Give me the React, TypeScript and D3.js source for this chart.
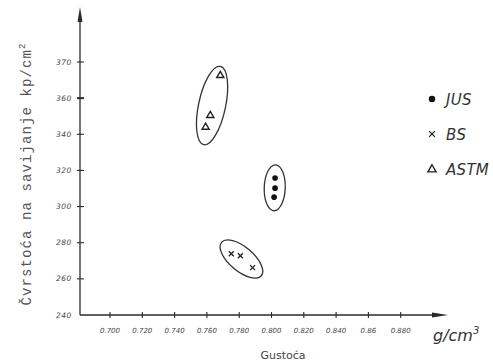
import React from "react";
import * as d3 from "d3";

// ---- data ----
const xTickValues = [0.7, 0.72, 0.74, 0.76, 0.78, 0.8, 0.82, 0.84, 0.86, 0.88];
const xTickLabels = ["0.700", "0.720", "0.740", "0.760", "0.780", "0.800", "0.820", "0.840", "0.86", "0.880"];
const yTickValues = [240, 260, 280, 300, 320, 340, 360, 380];
const yTickLabels = ["240", "260", "280", "300", "320", "340", "360", "370"];

const seriesNames = ["JUS", "BS", "ASTM"];
const jusX = [0.8022, 0.8022, 0.8016];
const jusY = [315.8, 310.2, 305.2];
const bsX = [0.7751, 0.7807, 0.7883];
const bsY = [273.9, 272.8, 266.2];
const astmX = [0.7683, 0.7621, 0.7592];
const astmY = [372.8, 350.7, 344.2];

const W = 493;
const H = 362;

const x = d3.scaleLinear().domain([0.7, 0.88]).range([110, 400.7]);
const y = d3.scaleLinear().domain([240, 380]).range([315, 62]);

const INK = "#2a2a2a";
const TXT = "#444";

// ellipse styles per group (pixel radii and rotation)
const groups = [
  { name: "JUS", xs: jusX, ys: jusY, rx: 10.5, ry: 23, rot: 2 },
  { name: "BS", xs: bsX, ys: bsY, rx: 26, ry: 12, rot: 40 },
  { name: "ASTM", xs: astmX, ys: astmY, rx: 13.5, ry: 40, rot: 12 },
];

function Marker({ kind, cx, cy, s = 1 }: { kind: string; cx: number; cy: number; s?: number }) {
  if (kind === "JUS") return <circle cx={cx} cy={cy} r={2.8 * s} fill="#111" />;
  if (kind === "BS")
    return (
      <g stroke="#222" strokeWidth={1.3}>
        <line x1={cx - 2.5 * s} y1={cy - 2.5 * s} x2={cx + 2.5 * s} y2={cy + 2.5 * s} />
        <line x1={cx - 2.5 * s} y1={cy + 2.5 * s} x2={cx + 2.5 * s} y2={cy - 2.5 * s} />
      </g>
    );
  const tri = d3.symbol().type(d3.symbolTriangle).size(22 * s * s)();
  return <path d={tri || ""} transform={`translate(${cx},${cy + 0.5})`} fill="none" stroke="#222" strokeWidth={1.4} />;
}

export default function App() {
  const yAxisX = 80;
  const xAxisY = y(240);
  return (
    <svg width={W} height={H} style={{ position: "absolute", left: 0, top: 0, background: "#fff" }}>
      <rect width={W} height={H} fill="#fff" />
      {/* y axis */}
      <line x1={yAxisX} y1={xAxisY} x2={yAxisX} y2={14} stroke={INK} strokeWidth={1.3} />
      <path d={`M${yAxisX - 2.5},22 L${yAxisX},7 L${yAxisX + 2.5},22 Z`} fill={INK} />
      {yTickValues.map((v, i) => (
        <g key={"yt" + i}>
          {i > 0 && (
            <line x1={yAxisX - 3} x2={yAxisX + 4} y1={y(v)} y2={y(v)} stroke={INK} strokeWidth={i === 6 ? 2 : 1.1} />
          )}
          <text
            x={72}
            y={y(v) + 2.5}
            textAnchor="end"
            fontFamily="DejaVu Sans"
            fontStyle="italic"
            fontSize={7.5}
            fill={TXT}
            letterSpacing={0.6}
          >
            {yTickLabels[i]}
          </text>
        </g>
      ))}
      {/* x axis */}
      <line x1={yAxisX} y1={xAxisY} x2={440} y2={xAxisY} stroke={INK} strokeWidth={1.3} />
      <path d={`M432,${xAxisY - 2.5} L448,${xAxisY} L432,${xAxisY + 2.5} Z`} fill={INK} />
      {xTickValues.map((v, i) => (
        <g key={"xt" + i}>
          <line x1={x(v)} x2={x(v)} y1={xAxisY - 3} y2={xAxisY + 3} stroke={INK} strokeWidth={1.1} />
          <text
            x={x(v)}
            y={xAxisY + 18}
            textAnchor="middle"
            fontFamily="DejaVu Sans"
            fontStyle="italic"
            fontSize={7}
            fill={TXT}
          >
            {xTickLabels[i]}
          </text>
        </g>
      ))}
      <text x={433} y={341} fontFamily="DejaVu Sans" fontStyle="italic" fontSize={16} fill="#333">
        g/cm<tspan dy={-7} fontSize={10}>3</tspan>
      </text>
      <text x={283} y={359} textAnchor="middle" fontFamily="DejaVu Sans" fontSize={11} fill="#444">
        Gustoća
      </text>
      {/* y label */}
      <text
        transform={`translate(31,174) rotate(-90)`}
        textAnchor="middle"
        fontFamily="Liberation Mono"
        fontSize={14}
        letterSpacing={1.1}
        fill="#555"
      >
        Čvrstoća na savijanje kp/cm<tspan dy={-6} fontSize={9}>2</tspan>
      </text>
      {/* ellipses */}
      {groups.map((g) => {
        const cx = d3.mean(g.xs.map((v) => x(v))) as number;
        const cy = d3.mean(g.ys.map((v) => y(v))) as number;
        return (
          <ellipse
            key={"el" + g.name}
            cx={cx}
            cy={cy}
            rx={g.rx}
            ry={g.ry}
            transform={`rotate(${g.rot},${cx},${cy})`}
            fill="none"
            stroke="#333"
            strokeWidth={1.3}
          />
        );
      })}
      {/* points */}
      {groups.map((g) =>
        g.xs.map((v, i) => <Marker key={g.name + i} kind={g.name} cx={x(v)} cy={y(g.ys[i])} />)
      )}
      {/* legend */}
      {seriesNames.map((n, i) => (
        <g key={"lg" + n}>
          <Marker kind={n} cx={432} cy={99 + i * 35} s={1.15} />
          <text
            x={446}
            y={104.5 + i * 35}
            fontFamily="DejaVu Sans"
            fontStyle="italic"
            fontSize={15}
            letterSpacing={0.3}
            fill="#333"
          >
            {n}
          </text>
        </g>
      ))}
    </svg>
  );
}
